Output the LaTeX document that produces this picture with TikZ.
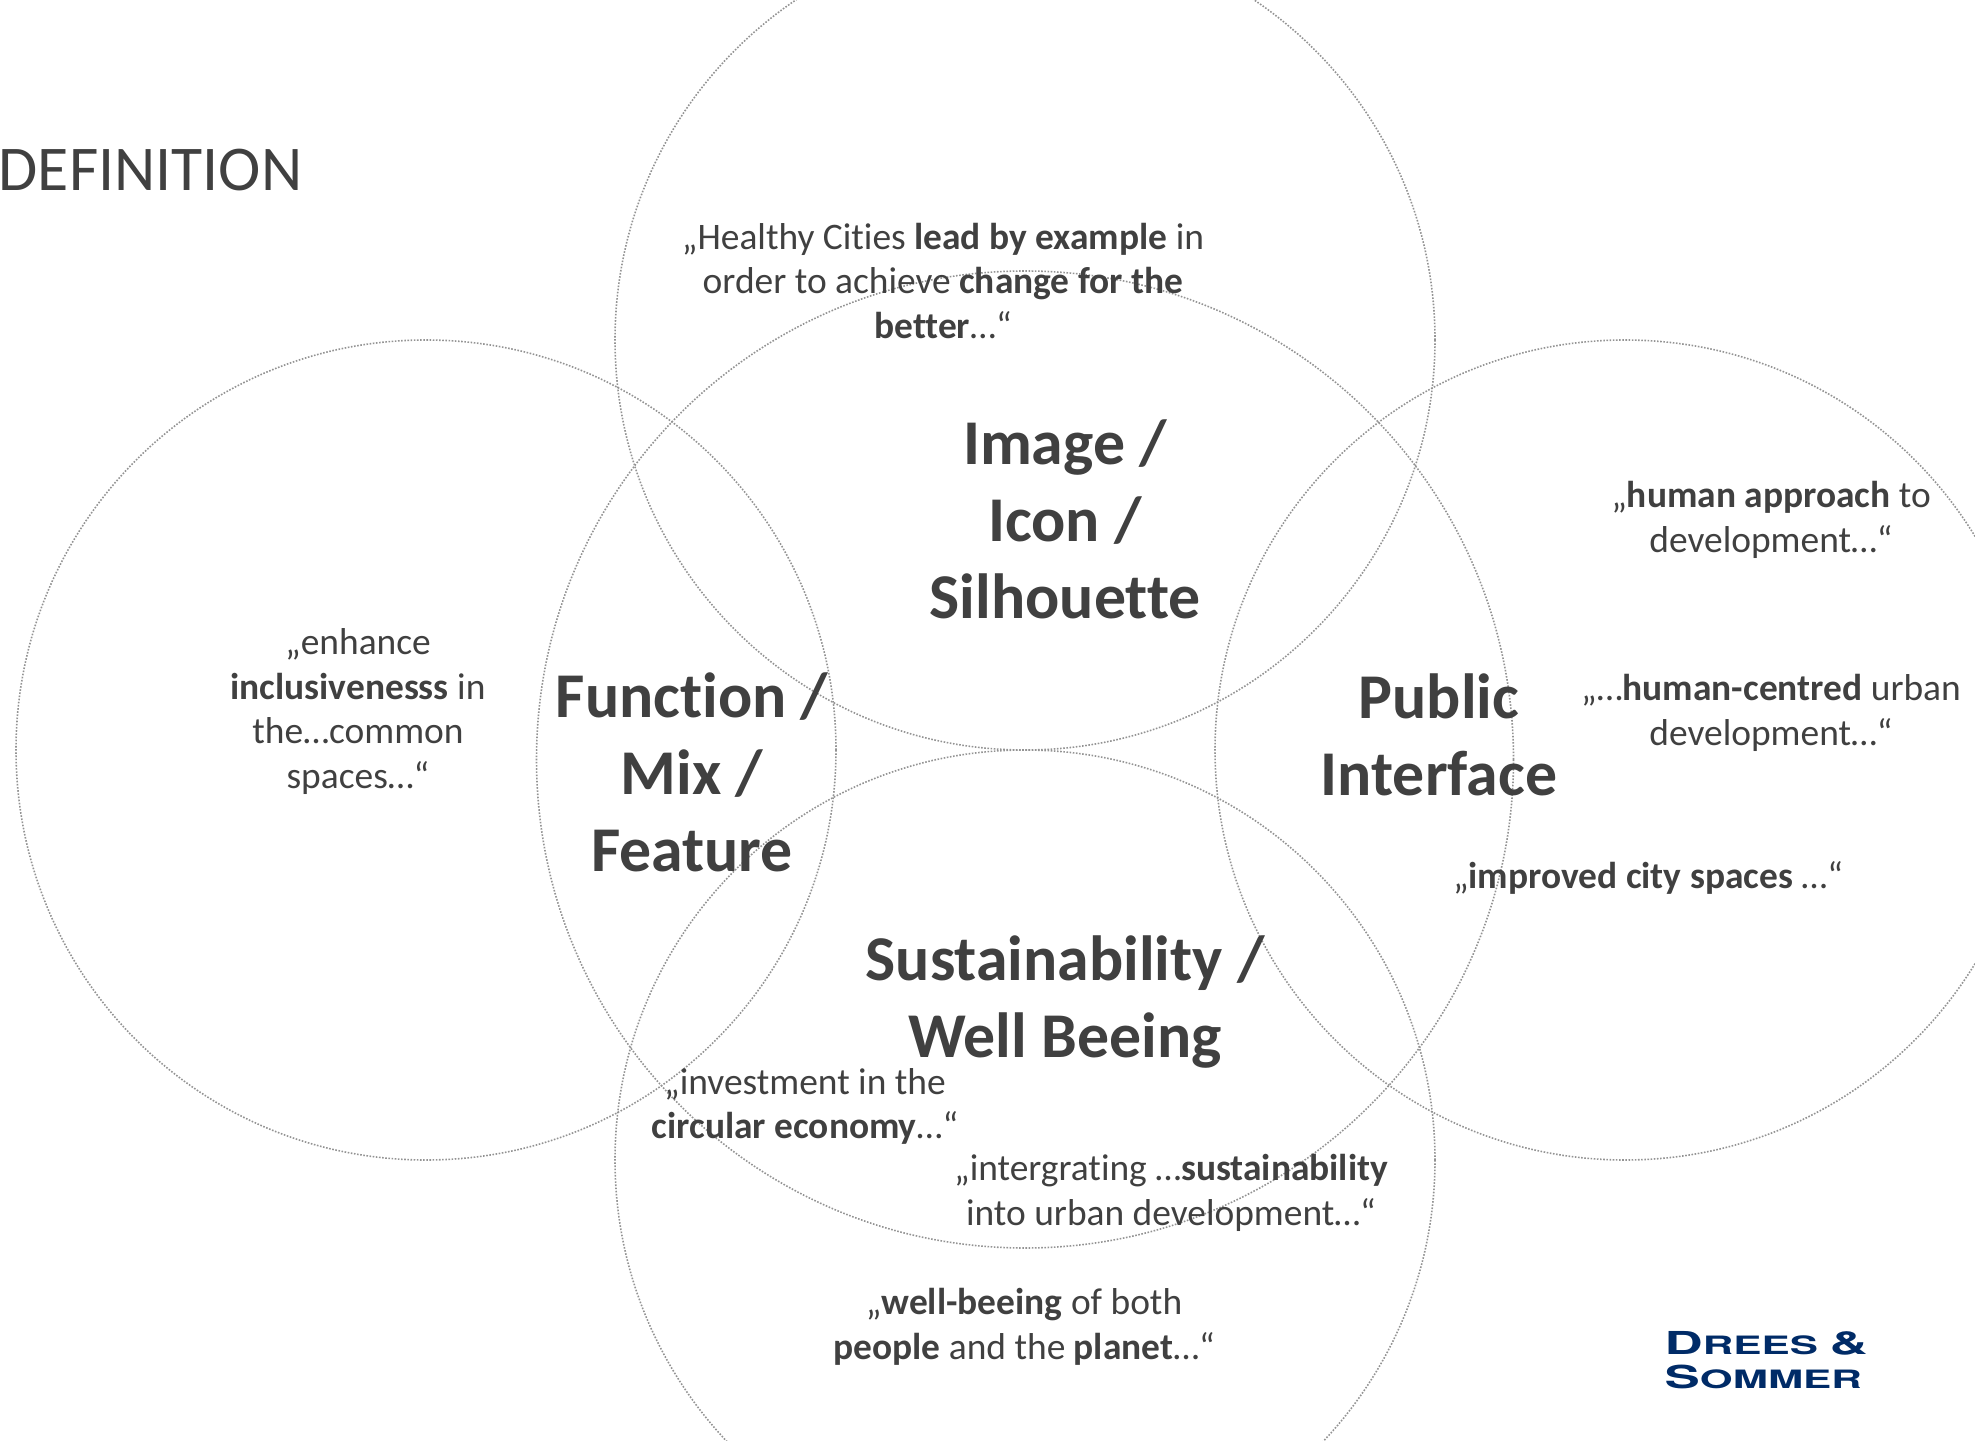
\documentclass[tikz,border=0pt]{standalone}
\usepackage{fontspec}
\setmainfont[Ligatures={NoCommon}]{Carlito}
\newfontfamily\logofont{TeX Gyre Heros}
\definecolor{txtgray}{HTML}{404040}
\definecolor{logoblue}{HTML}{002B67}
\tikzset{
	ring/.style={draw=gray!85, line width=.45pt, dash pattern=on .45pt off .45pt},
	quote/.style={font=\fontsize{10.65}{12.75}\selectfont, align=center, text=txtgray, inner sep=0},
	topic/.style={font=\fontsize{18.15}{21.9}\selectfont\bfseries, align=center, text=txtgray, inner sep=0},
	logoline/.style={font=\logofont\bfseries, text=logoblue, inner sep=0, anchor=base west}
}
\newcommand{\logobig}{\fontsize{9}{10}\selectfont}
\newcommand{\logosmall}{\fontsize{7.2}{10}\selectfont}
\begin{document}
\begin{tikzpicture}
	\clip (0,0) rectangle (19.75,14.4);
	\draw [ring] (10.25,11) circle [radius = 4.10];
	\draw [ring] (4.26,6.9) circle [radius = 4.10];
	\draw [ring] (16.25,6.9) circle [radius = 4.10];
	\draw [ring] (10.25,2.8) circle [radius = 4.10];
	\draw [ring] (10.25,6.805) circle [radius = 4.885];
	\node (title) [anchor=west, inner sep=0, text=txtgray, font=\fontsize{18.15}{21}\selectfont] at (-.02,12.70) {DEFINITION};
	\node (image) [topic] at (10.65,9.21) {Image /\\Icon /\\Silhouette};
	\node (function) [topic] at (6.92,6.68) {Function /\\Mix /\\Feature};
	\node (public) [topic] at (14.39,7.055) {Public\\Interface};
	\node (sustain) [topic] at (10.65,4.375) {Sustainability /\\Well Beeing};
	\node (healthy) [quote] at (9.43,11.59) {„Healthy Cities \textbf{lead by example} in\\order to achieve \textbf{change for the}\\\textbf{better}…“};
	\node (enhance) [quote] at (3.58,7.285) {„enhance\\\textbf{inclusivenesss} in\\the…common\\spaces…“};
	\node (approach) [quote] at (17.71,9.205) {„\textbf{human approach} to\\development…“};
	\node (centred) [quote] at (17.71,7.275) {„…\textbf{human-centred} urban\\development…“};
	\node (improved) [quote] at (16.48,5.625) {„\textbf{improved city spaces} …“};
	\node (invest) [quote] at (8.05,3.335) {„investment in the\\\textbf{circular economy}…“};
	\node (integr) [quote] at (11.71,2.475) {„intergrating …\textbf{sustainability}\\into urban development…“};
	\node (wellb) [quote] at (10.24,1.13) {„\textbf{well-beeing} of both\\\textbf{people} and the \textbf{planet}…“};
	\node (drees) [logoline] at (16.64,0.86) {\scalebox{1.67}[1]{\logobig D\logosmall REES \logobig\&}};
	\node (sommer) [logoline] at (16.64,0.52) {\scalebox{1.67}[1]{\logobig S\logosmall OMMER}};
\end{tikzpicture}
\end{document}
